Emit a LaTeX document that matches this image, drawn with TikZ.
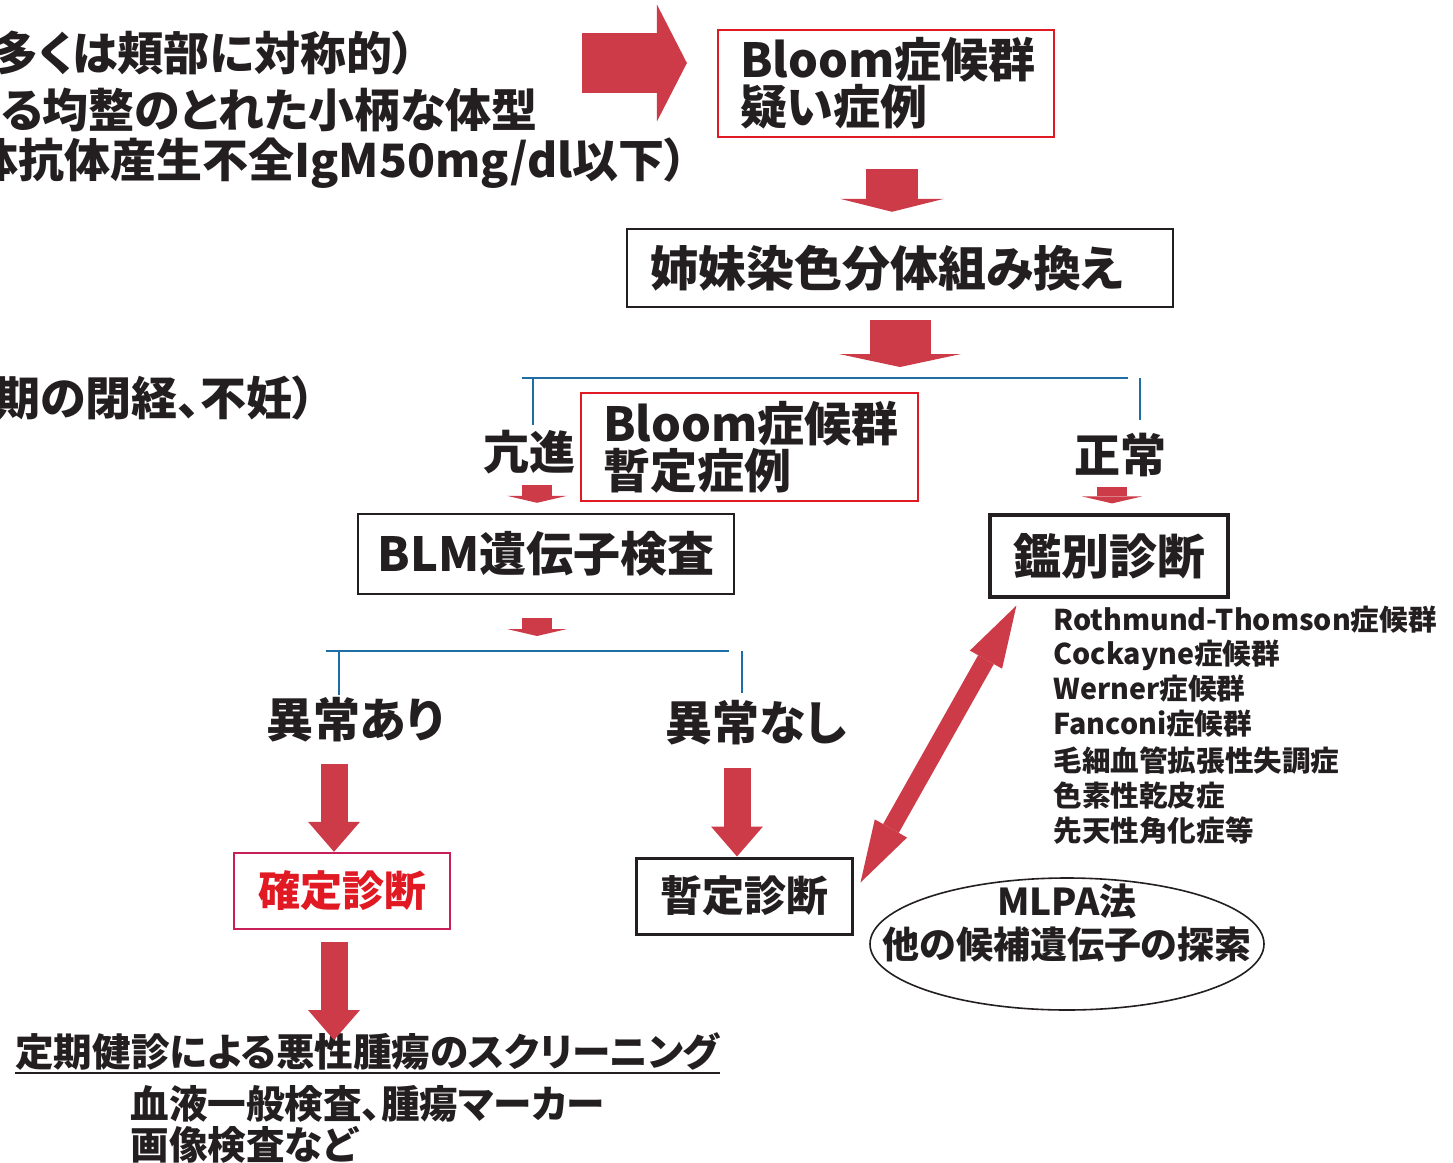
\documentclass[tikz,border=0pt]{standalone}
\usepackage{fontspec}
\setmainfont{Noto Sans CJK JP}[RawFeature=+palt]
\usetikzlibrary{arrows.meta,shapes.geometric}
\definecolor{ink}{RGB}{35,31,32}
\definecolor{arrowred}{RGB}{205,58,72}
\definecolor{boxred}{RGB}{225,25,35}
\definecolor{boxmag}{RGB}{200,30,90}
\definecolor{lineblue}{RGB}{30,110,165}
\tikzset{
  t/.style={inner sep=0pt, text=ink, font=\bfseries\fontsize{#1}{#1}\selectfont},
  lefttxt/.style={t=23, anchor=west},
  listtxt/.style={t=14.3, anchor=west},
  blackbox/.style={draw=ink, line width=1.2pt, inner sep=0pt},
  redbox/.style={draw=boxred, line width=1.1pt, inner sep=0pt},
  twoline/.style={align=left, font=\bfseries\fontsize{23.5}{21.5}\selectfont, text=ink},
  blueline/.style={draw=lineblue, line width=1.25pt},
  rightA/.style={draw=arrowred, line width=30pt, -{Triangle[width=58.5pt,length=15pt,line width=0pt,fill=arrowred]}},
  downA/.style={draw=arrowred, line width=#1, -{Triangle[width=2*#1,length=6.5pt,line width=0pt,fill=arrowred]}},
  smallA/.style={draw=arrowred, line width=15pt, -{Triangle[width=30pt,length=3.5pt,line width=0pt,fill=arrowred]}},
  bigA/.style={draw=arrowred, line width=13.5pt, -{Triangle[width=26pt,length=15pt,line width=0pt,fill=arrowred]}},
  dblA/.style={draw=arrowred, line width=9pt, {Triangle[width=18.5pt,length=31pt,line width=0pt,fill=arrowred]}-{Triangle[width=18.5pt,length=31pt,line width=0pt,fill=arrowred]}},
}
\begin{document}
\begin{tikzpicture}[x=0.5pt,y=-0.5pt]
\useasboundingbox (0,0) rectangle (1453,1163);
\fill[white] (0,0) rectangle (1453,1163);
\clip (0,0) rectangle (1453,1163);

% left texts (cut off at the left edge, as in the reference)
\node[lefttxt] (l1) at (-8,53) {多くは頬部に対称的）};
\node[lefttxt] (l2) at (0,110) {る均整のとれた小柄な体型};
\node[lefttxt] (l3) at (-28,163) {体抗体産生不全IgM50mg/dl以下）};
\node[lefttxt] (l4) at (-6,398) {期の閉経、不妊）};

% boxes
\node[redbox, twoline, text width=146pt, inner xsep=11pt, minimum height=53.5pt] (b1) at (886,83.5) {Bloom症候群\\疑い症例};
\node[blackbox, t=24, text width=250pt, inner xsep=11.5pt, align=left, minimum height=39pt] (kyodai) at (900,268) {姉妹染色分体組み換え};
\node[redbox, twoline, text width=146.5pt, inner xsep=11pt, minimum height=54pt] (zantei1) at (749.5,447) {Bloom症候群\\暫定症例};
\node[blackbox, t=23.5, minimum width=188pt, minimum height=40pt] (blm) at (546,554) {BLM遺伝子検査};
\node[blackbox, t=24, line width=1.6pt, minimum width=119pt, minimum height=41pt] (kanbetsu) at (1109,556) {鑑別診断};
\node[draw=boxmag, line width=1.2pt, inner sep=0pt, font=\bfseries\fontsize{21}{21}\selectfont, text=boxred, minimum width=108pt, minimum height=38pt] (kakutei) at (342,891) {確定診断};
\node[blackbox, t=21, line width=1.5pt, minimum width=108pt, minimum height=38pt] (zantei2) at (744,896) {暫定診断};

% labels
\node[t=23] (koushin) at (529,452) {亢進};
\node[t=23] (seijou) at (1120,455) {正常};
\node[t=23.5] (ijouari) at (355,720) {異常あり};
\node[t=23.5] (ijounashi) at (756,723) {異常なし};

% list
\node[listtxt] (d1) at (1053,620) {Rothmund-Thomson症候群};
\node[listtxt] (d2) at (1053,655) {Cockayne症候群};
\node[listtxt] (d3) at (1053,689) {Werner症候群};
\node[listtxt] (d4) at (1053,724) {Fanconi症候群};
\node[listtxt] (d5) at (1053,761) {毛細血管拡張性失調症};
\node[listtxt] (d6) at (1053,796) {色素性乾皮症};
\node[listtxt] (d7) at (1053,831) {先天性角化症等};

% ellipse
\node[ellipse, draw=ink, line width=0.8pt, minimum width=197pt, minimum height=66pt, inner sep=0pt] (mlpa) at (1067,944) {};
\node[inner sep=0pt, align=center, text=ink, font=\bfseries\fontsize{18.5}{21.5}\selectfont] (mlpatext) at (1067,923) {MLPA法\\他の候補遺伝子の探索};

% bottom texts
\node[t=19.3, anchor=west] (teiki) at (15,1052) {定期健診による悪性腫瘍のスクリーニング};
\draw[ink, line width=1pt] ([shift={(0,6)}]teiki.base west) -- ([shift={(0,6)}]teiki.base east);
\node[t=19.3, anchor=west] (ketsu) at (130,1104) {血液一般検査、腫瘍マーカー};
\node[t=19.3, anchor=west] (gazou) at (130,1145) {画像検査など};

% coordinates
\coordinate (rstart) at (582,63);
\coordinate (branch1) at (900,367);
\coordinate (br1l) at (522,378);
\coordinate (br1r) at (1128,378);
\coordinate (br1a) at (533,378);
\coordinate (br1b) at (1140,378);
\coordinate (branch2) at (537,636);
\coordinate (br2l) at (326,651);
\coordinate (br2r) at (729,651);
\coordinate (br2a) at (339,651);
\coordinate (br2b) at (742,651);
\coordinate (screentip) at (334,1040);

% arrows
\draw[rightA] (rstart) -- ([shift={(-30,-20.5)}]b1.west);
\draw[downA=26pt] ([shift={(6,31)}]b1.south) -- ([shift={(-8,-16)}]kyodai.north);
\draw[downA=30.5pt] ([shift={(0,12)}]kyodai.south) -- (branch1);

\draw[blueline] (br1l) -- (br1r);
\draw[blueline] (br1a) -- ++(0,47);
\draw[blueline] (br1b) -- ++(0,42);

\draw[smallA] ([shift={(8,11)}]koushin.south) -- ([shift={(-9,-10)}]blm.north);
\draw[smallA] ([shift={(-8,10)}]seijou.south) -- ([shift={(3,-10)}]kanbetsu.north);
\draw[smallA] ([shift={(-9,23)}]blm.south) -- (branch2);

\draw[blueline] (br2l) -- (br2r);
\draw[blueline] (br2a) -- ++(0,44);
\draw[blueline] (br2b) -- ++(0,42);

\draw[bigA] ([shift={(-21,21)}]ijouari.south) -- ([shift={(-8,0)}]kakutei.north);
\draw[bigA] ([shift={(-19,22)}]ijounashi.south) -- ([shift={(-7,0)}]zantei2.north);
\draw[bigA] ([shift={(-8,12)}]kakutei.south) -- (screentip);

\draw[dblA] ([shift={(7,26)}]zantei2.north east) -- ([shift={(28,7)}]kanbetsu.south west);
\end{tikzpicture}
\end{document}
